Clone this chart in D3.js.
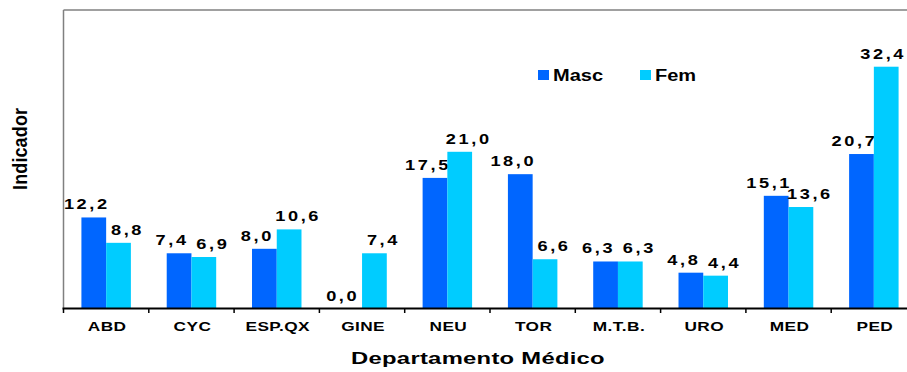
<!DOCTYPE html>
<html><head><meta charset="utf-8">
<script src="https://cdn.jsdelivr.net/npm/d3@7"></script>
<style>body{margin:0;background:#fff;}svg{display:block;font-family:"Liberation Sans",Arial,sans-serif;}</style>
</head><body>
<svg id="c" width="907" height="372"></svg>
<script>
const categories = ["ABD","CYC","ESP.QX","GINE","NEU","TOR","M.T.B.","URO","MED","PED"];
const masc = [12.2,7.4,8.0,0.0,17.5,18.0,6.3,4.8,15.1,20.7];
const fem  = [8.8,6.9,10.6,7.4,21.0,6.6,6.3,4.4,13.6,32.4];
const seriesNames = ["Masc","Fem"];
const colors = ["#0066FF","#00CCFF"];

const svg = d3.select("#c");
const pL = 63.5, pT = 10, pB = 308.5, step = 85.3, W = 907;
const x = d3.scaleBand().domain(categories).range([pL, pL + step*categories.length]).paddingInner(0.42).paddingOuter(0.21);
const x1 = d3.scaleBand().domain(seriesNames).range([0, x.bandwidth()]);
const y = d3.scaleLinear().domain([0,40]).range([pB, pT]);

function wideText(parent, tx, ty, str, size, k, anchor, ls){
  return parent.append("text").attr("transform",`translate(${tx},${ty}) scale(${k},1)`)
    .attr("text-anchor",anchor||"middle").attr("font-size",size).attr("font-weight","bold")
    .attr("letter-spacing",(ls||0)+"px").attr("fill","#000").text(str);
}

// frame
svg.append("line").attr("x1",pL).attr("x2",W).attr("y1",pT).attr("y2",pT).attr("stroke","#808080").attr("stroke-width",1.5);
svg.append("line").attr("x1",pL).attr("x2",pL).attr("y1",pT).attr("y2",pB).attr("stroke","#808080").attr("stroke-width",1.5);

const labelShift = [-8, 8];
const data = categories.map((c,i)=>({c, vals:[masc[i],fem[i]]}));
const g = svg.append("g");
data.forEach(d=>{
  d.vals.forEach((v,j)=>{
    const bx = x(d.c) + x1(seriesNames[j]);
    g.append("rect").attr("x",bx).attr("width",x1.bandwidth()).attr("y",y(v)).attr("height",pB-y(v)).attr("fill",colors[j]);
    let cx = bx + x1.bandwidth()/2 + labelShift[j] + 1;
    const t = wideText(g, cx, y(v)-8, d3.format(".1f")(v).replace(".",","), 14, 1.3, "middle", 2);
    const half = t.node().getBBox().width*1.3/2;
    if (cx + half > W - 1) { cx = W - 1 - half; t.attr("transform",`translate(${cx},${y(v)-8}) scale(1.3,1)`); }
  });
});

// x axis
const ax = svg.append("g").attr("transform",`translate(0,${pB})`)
  .call(d3.axisBottom(x).tickSize(0).tickFormat(""));
ax.select(".domain").remove();
categories.forEach(c=>{
  wideText(svg, x(c)+x.bandwidth()/2+1, 331, c, 13, 1.33, "middle", 0.3);
});
svg.append("line").attr("x1",pL-1).attr("x2",W).attr("y1",pB).attr("y2",pB).attr("stroke","#000").attr("stroke-width",2);
d3.range(categories.length+1).forEach(i=>{
  const tx = pL + i*step;
  svg.append("line").attr("x1",tx).attr("x2",tx).attr("y1",pB).attr("y2",pB+4.5).attr("stroke","#000").attr("stroke-width",1.5);
});

// axis titles
wideText(svg, 478, 364, "Departamento Médico", 17, 1.4, "middle", 0.2);
svg.append("text").attr("transform","translate(27,149) scale(1.1,1) rotate(-90)").attr("text-anchor","middle")
  .attr("font-size",18).attr("font-weight","bold").attr("textLength",82).text("Indicador");

// legend
const lg = svg.append("g");
[[538,"Masc"],[640,"Fem"]].forEach(([lx,n],j)=>{
  lg.append("rect").attr("x",lx).attr("y",70).attr("width",11).attr("height",10).attr("fill",colors[j]);
  wideText(lg, lx+15, 81, n, 16, 1.25, "start", 0);
});
</script></body></html>
